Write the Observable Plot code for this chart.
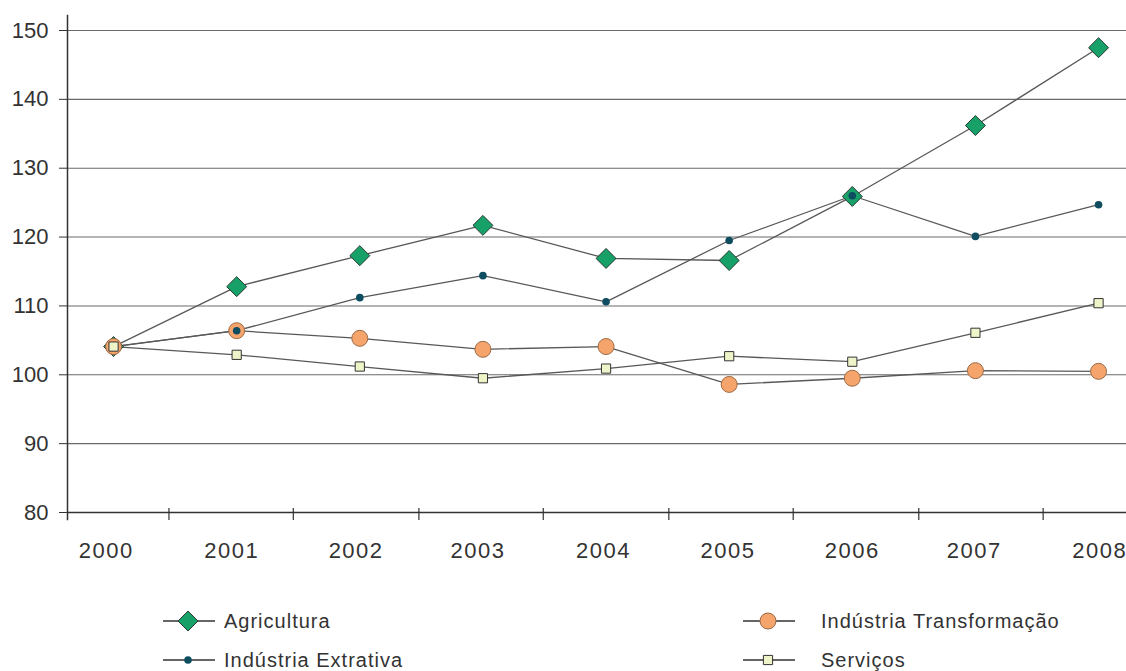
<!DOCTYPE html>
<html><head><meta charset="utf-8">
<script src="https://cdn.jsdelivr.net/npm/d3@7"></script>
<script src="https://cdn.jsdelivr.net/npm/@observablehq/plot@0.6"></script>
<style>
body{margin:0;background:#fff;font-family:"Liberation Sans",Arial,sans-serif;}
#chart{position:relative;width:1126px;height:671px;overflow:hidden;background:#fff}
#chart svg g[aria-label="text"] text{letter-spacing:1.5px}
.leg{position:absolute;display:flex;align-items:center;font-size:20px;letter-spacing:1px;color:#333;white-space:nowrap}
</style></head><body><div id="chart"></div>
<script>
const years = [2000, 2001, 2002, 2003, 2004, 2005, 2006, 2007, 2008];
const yearLabelPos = [1999.94, 2000.96, 2001.97, 2002.96, 2003.98, 2004.99, 2006.0, 2006.99, 2008.01];
const yearTickPos = [2000.45, 2001.46, 2002.48, 2003.49, 2004.51, 2005.52, 2006.54, 2007.55];
const seriesNames = ["Agricultura", "Indústria Extrativa", "Indústria Transformação", "Serviços"];
const agricultura = [104.1, 112.8, 117.3, 121.7, 116.9, 116.6, 125.9, 136.2, 147.5];
const extrativa = [104.1, 106.4, 111.2, 114.4, 110.6, 119.5, 126.0, 120.1, 124.7];
const transformacao = [104.1, 106.4, 105.3, 103.7, 104.1, 98.6, 99.5, 100.6, 100.5];
const servicos = [104.1, 102.9, 101.2, 99.5, 100.9, 102.7, 101.9, 106.1, 110.4];
const yTicks = [80, 90, 100, 110, 120, 130, 140, 150];

const valuesByName = {
  "Agricultura": agricultura,
  "Indústria Extrativa": extrativa,
  "Indústria Transformação": transformacao,
  "Serviços": servicos
};
const styles = {
  "Agricultura": {symbol: "diamond2", fill: "#17a068", stroke: "#2b3a32", r: 9, strokeWidth: 1},
  "Indústria Transformação": {symbol: "circle", fill: "#f5a46c", stroke: "#9c6a45", r: 8, strokeWidth: 1},
  "Indústria Extrativa": {symbol: "circle", fill: "#0e4c60", stroke: "none", r: 3.8, strokeWidth: 0},
  "Serviços": {symbol: "square", fill: "#eef3c8", stroke: "#333", r: 5.2, strokeWidth: 1}
};
const rows = seriesNames.flatMap(name => years.map((year, i) => ({series: name, year, value: valuesByName[name][i]})));
const drawOrder = ["Agricultura", "Indústria Transformação", "Indústria Extrativa", "Serviços"];

const xDomain = [1999.626, 2008.227];

const chart = Plot.plot({
  width: 1126, height: 590,
  marginLeft: 67, marginRight: 0, marginTop: 30, marginBottom: 78,
  x: {domain: xDomain, axis: null},
  y: {domain: [80, 150], axis: null},
  style: {fontFamily: '"Liberation Sans", Arial, sans-serif', background: "#fff", color: "#333"},
  marks: [
    Plot.ruleY(yTicks.slice(1), {stroke: "#6a6a6a", strokeWidth: 1.1}),
    Plot.axisY({ticks: yTicks, anchor: "left", label: null, tickSize: 8, tickPadding: 11, fontSize: 22, stroke: "#333", tickFormat: d => String(d)}),
    Plot.ruleY([80], {stroke: "#333", strokeWidth: 1.6}),
    Plot.ruleX([xDomain[0]], {y1: 78.8, y2: 152.2, stroke: "#333", strokeWidth: 1.5}),
    Plot.ruleX(yearTickPos, {y1: 78.84, y2: 80.58, stroke: "#333", strokeWidth: 1.2}),
    Plot.text(years, {x: (d, i) => yearLabelPos[i], y: () => 80, dy: 38, text: d => String(d), fontSize: 22, fill: "#333"}),
    Plot.line(rows, {x: "year", y: "value", z: "series", stroke: "#585858", strokeWidth: 1.3}),
    ...drawOrder.map(name => Plot.dot(rows.filter(d => d.series === name), {
      x: "year", y: "value", ...styles[name]
    }))
  ]
});
const host = document.getElementById("chart");
host.appendChild(chart);

// legend
const legendPos = {
  "Agricultura": [163, 604, 9],
  "Indústria Extrativa": [163, 643, 9],
  "Indústria Transformação": [743, 604, 26],
  "Serviços": [743, 643, 26]
};
for (const name of seriesNames) {
  const st = styles[name];
  const [lx, ly, gap] = legendPos[name];
  const div = document.createElement("div");
  div.className = "leg";
  div.style.left = lx + "px";
  div.style.top = ly + "px";
  const s = d3.create("svg").attr("width", 52).attr("height", 34).style("margin-right", gap + "px");
  s.append("line").attr("x1", 0).attr("x2", 52).attr("y1", 17).attr("y2", 17).attr("stroke", "#333").attr("stroke-width", 1.3);
  const sym = {diamond2: d3.symbolDiamond2, circle: d3.symbolCircle, square: d3.symbolSquare}[st.symbol];
  s.append("path").attr("d", d3.symbol(sym, Math.PI * st.r * st.r)())
    .attr("transform", "translate(25,17)")
    .attr("fill", st.fill).attr("stroke", st.stroke).attr("stroke-width", st.strokeWidth);
  div.appendChild(s.node());
  const t = document.createElement("span");
  t.textContent = name;
  div.appendChild(t);
  host.appendChild(div);
}
</script>
</body></html>
